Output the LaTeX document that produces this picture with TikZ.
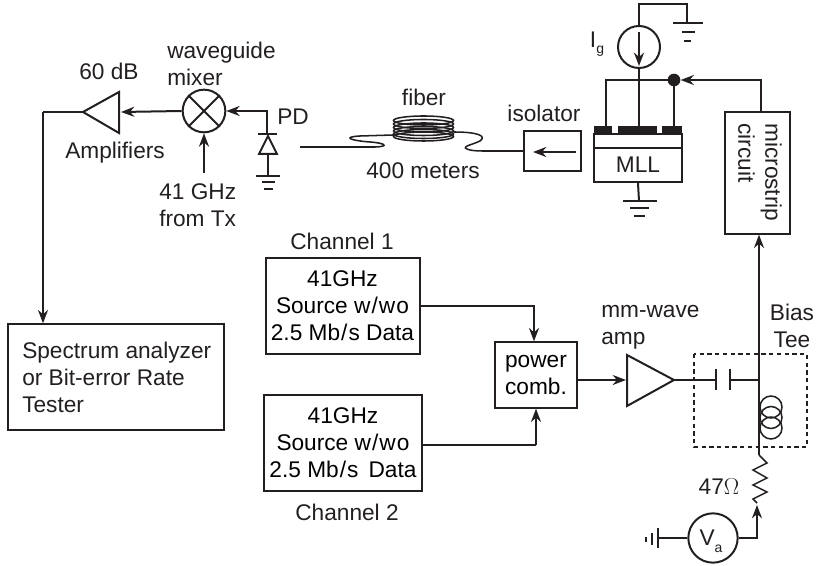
\documentclass[tikz,border=0pt]{standalone}
\usepackage{fontspec}
\setmainfont{Liberation Sans}
\usetikzlibrary{arrows.meta}
\definecolor{inkc}{HTML}{231F20}
\tikzset{
  wire/.style={inkc, line width=1.5pt},
  arr/.style={wire, -{Stealth[length=10pt,width=7.5pt]}},
  thinwire/.style={inkc, line width=1.15pt},
  boxed/.style={draw=inkc, line width=1.5pt, inner sep=0pt, align=center},
  disc/.style={draw=inkc, line width=1.5pt, circle, inner sep=0pt},
  lab/.style={inner sep=0pt, text=inkc, align=center},
  every node/.append style={font=\fontsize{17}{20.3}\selectfont}
}
\newcommand{\subsc}[1]{\raisebox{-0.55ex}{\fontsize{10.5}{10.5}\selectfont #1}}
\newcommand{\srcline}{Source w\kern0.8pt/\kern0.8pt w\kern0.8pt o}
\newcommand{\rateline}{2.5 Mb\kern0.8pt/\kern0.8pt s}
\begin{document}
\begin{tikzpicture}[x=0.75pt, y=-0.75pt]
\useasboundingbox (0,0) rectangle (818,566);
%
% Blocks :
\node[boxed, minimum width=115.5pt, minimum height=71.5pt] (ch1) at (342.5,306) {41GHz\\\srcline\\\rateline\ Data};
\node[boxed, minimum width=119pt, minimum height=71.5pt] (ch2) at (343,443) {41GHz\\\srcline\\\rateline\ \,Data};
\node[boxed, minimum width=61pt, minimum height=49pt] (comb) at (536,375) {power\\comb.};
\node[boxed, minimum width=161.5pt, minimum height=79pt] (sa) at (116,377) {};
\node[boxed, minimum width=42.5pt, minimum height=29.5pt] (iso) at (552.5,151) {};
\node[boxed, minimum width=48.5pt, minimum height=91pt] (strip) at (757.5,173) {};
\node[boxed, minimum width=65.5pt, minimum height=36pt] (mll) at (638,158) {};
\node[disc, minimum size=32pt] (mixer) at (204,111) {};
\node[disc, minimum size=31.5pt] (src) at (639,47) {};
\node[disc, minimum size=37pt] (va) at (713,538) {};
\node[circle, fill=inkc, minimum size=9.5pt, inner sep=0pt] (dot) at (674,80) {};
%
% Amplifiers :
\coordinate (amp) at (83,112);
\coordinate (mmamp) at (674,380);
\draw[wire] (amp) -- (119,92) -- (119,133) -- cycle;
\draw[wire] (mmamp) -- (627,355) -- (627,406) -- cycle;
%
% Receiver :
\draw[wire] (mixer.45) -- (mixer.225);
\draw[wire] (mixer.135) -- (mixer.315);
\draw[arr] (mixer.west) -- (121,112);
\coordinate (txin) at (204,173);
\draw[arr] (txin) -- (mixer.south);
\coordinate (pd) at (267,133);
\draw[arr] (pd) |- (mixer.east);
\draw[wire] (258,134) -- (277,134);
\draw[wire] (268,136) -- (259,154) -- (277,154) -- cycle;
\draw[wire] (268,155) -- (268,176);
\draw[wire] (256,176) -- (280,176);
\draw[wire] (262,182) -- (275,182);
\draw[wire] (264,189) -- (273,189);
\coordinate (amptop) at (43,112);
\draw[wire] (amp) -- (amptop);
\draw[arr] (amptop) -- (sa.north -| amptop);
%
% Fiber :
\coordinate (fibstart) at (300,147);
\draw[thinwire] (fibstart) -- (375,147) .. controls (390,146.5) and (385,143) .. (370,142) .. controls (350,140.5) and (342,137) .. (360,136) -- (393,135);
\draw[thinwire] (454,132) .. controls (478,132) and (487,136) .. (480,141) .. controls (472,145) and (458,147) .. (470,150) .. controls (475,151) and (480,151) .. (485,151) -- (iso.west);
\draw[thinwire] (423.5,120.5) ellipse (30 and 4.5);
\draw[thinwire] (423.5,124) ellipse (30 and 4.5);
\draw[thinwire] (423.5,127.5) ellipse (30 and 4.5);
\draw[thinwire] (423.5,131) ellipse (30 and 4.5);
\draw[thinwire] (423.5,134) ellipse (30 and 4.5);
\draw[thinwire] (423.5,136.5) ellipse (30 and 4.5);
\coordinate (isoa) at (576,152);
\coordinate (isob) at (533,152);
\draw[arr] (isoa) -- (isob);
%
% Laser :
\fill[inkc] (594,126) rectangle (612,134);
\fill[inkc] (618,126) rectangle (657,134);
\fill[inkc] (662,126) rectangle (682,134);
\draw[wire] (594,148) -- (682,148);
\draw[arr] (639,32) -- (639,66);
\draw[wire] (src.south) -- (639,127);
\draw[wire] (606,126) |- (dot.center);
\draw[wire] (dot.center) -- (674,126);
\draw[wire] (src.north) |- (687,4) -- (687,23);
\draw[wire] (673,23) -- (703,23);
\draw[wire] (682,32) -- (695,32);
\draw[wire] (684,41) -- (691,41);
\draw[wire] (mll.south) -- (639,201);
\draw[wire] (623,201) -- (657,201);
\draw[wire] (630,208) -- (649,208);
\draw[wire] (634,216) -- (645,216);
\draw[arr] (strip.north -| 761,0) |- (dot.east);
%
% Sources :
\coordinate (ch1c) at (534,306);
\coordinate (ch2c) at (536,445);
\draw[arr] (ch1.east) -- (ch1c) -- (comb.north -| ch1c);
\draw[wire] (423,445) -- (ch2c);
\draw[arr] (ch2c) -- (comb.south);
\draw[arr] (comb.east |- 0,380) -- (626,380);
%
% Bias tee :
\coordinate (tee) at (759,380);
\draw[wire] (mmamp) -- (716,380);
\draw[wire] (730,380) -- (tee);
\draw[wire] (716,369) -- (716,390);
\draw[wire] (730,369) -- (730,390);
\draw[arr] (759,455) -- (strip.south -| tee);
\draw[thinwire] (771,407) circle (11);
\draw[thinwire] (771,417.5) circle (11);
\draw[thinwire] (771,428) circle (11);
\draw[inkc, line width=1.2pt, dash pattern=on 3.2pt off 2.6pt] (694,354) rectangle (807,447);
\draw[thinwire] (759,455) -- (767,463) -- (753,470) -- (767,478) -- (753,485) -- (767,492) -- (753,499) -- (757,503);
\draw[arr] (va.east) -- (757,538) -- (757,505);
\draw[wire] (va.west) -- (658,538);
\draw[wire] (658,528) -- (658,548);
\draw[wire] (652,533) -- (652,545);
\draw[wire] (646,537) -- (646,542);
%
% Labels :
\node[lab] (ampl) at (109,71) {60 dB};
\node[lab] (ampn) at (115,153) {Amplifiers};
\node[lab, anchor=west, align=left] (mixl) at (167,64) {waveguide\\mixer};
\node[lab, anchor=west, align=left] (txl) at (159,205) {41 GHz\\from Tx};
\node[lab] (pdl) at (293,117) {PD};
\node[lab] (fibl) at (424,97) {fiber};
\node[lab] (lenl) at (423,171) {400 meters};
\node[lab] (isol) at (544,113) {isolator};
\node[lab] (igl) at (597,44) {I\subsc{g}};
\node[lab] (mlll) at (638,165) {MLL};
\node[lab, anchor=west, align=left, rotate=-90] (stripl) at (760,123) {microstrip\\circuit};
\node[lab] (c1l) at (342,241) {Channel 1};
\node[lab] (c2l) at (347,512) {Channel 2};
\node[lab, anchor=west, align=left] (sal) at (22,377) {Spectrum analyzer\\or Bit-error Rate\\Tester};
\node[lab, anchor=west, align=left] (mml) at (601,327) {mm-wave\\amp};
\node[lab] (teel) at (792,326) {Bias\\Tee};
\node[lab] (resl) at (719,487) {47$\Omega$};
\node[lab] (val) at (711,541) {V\subsc{a}};
\end{tikzpicture}
\end{document}
